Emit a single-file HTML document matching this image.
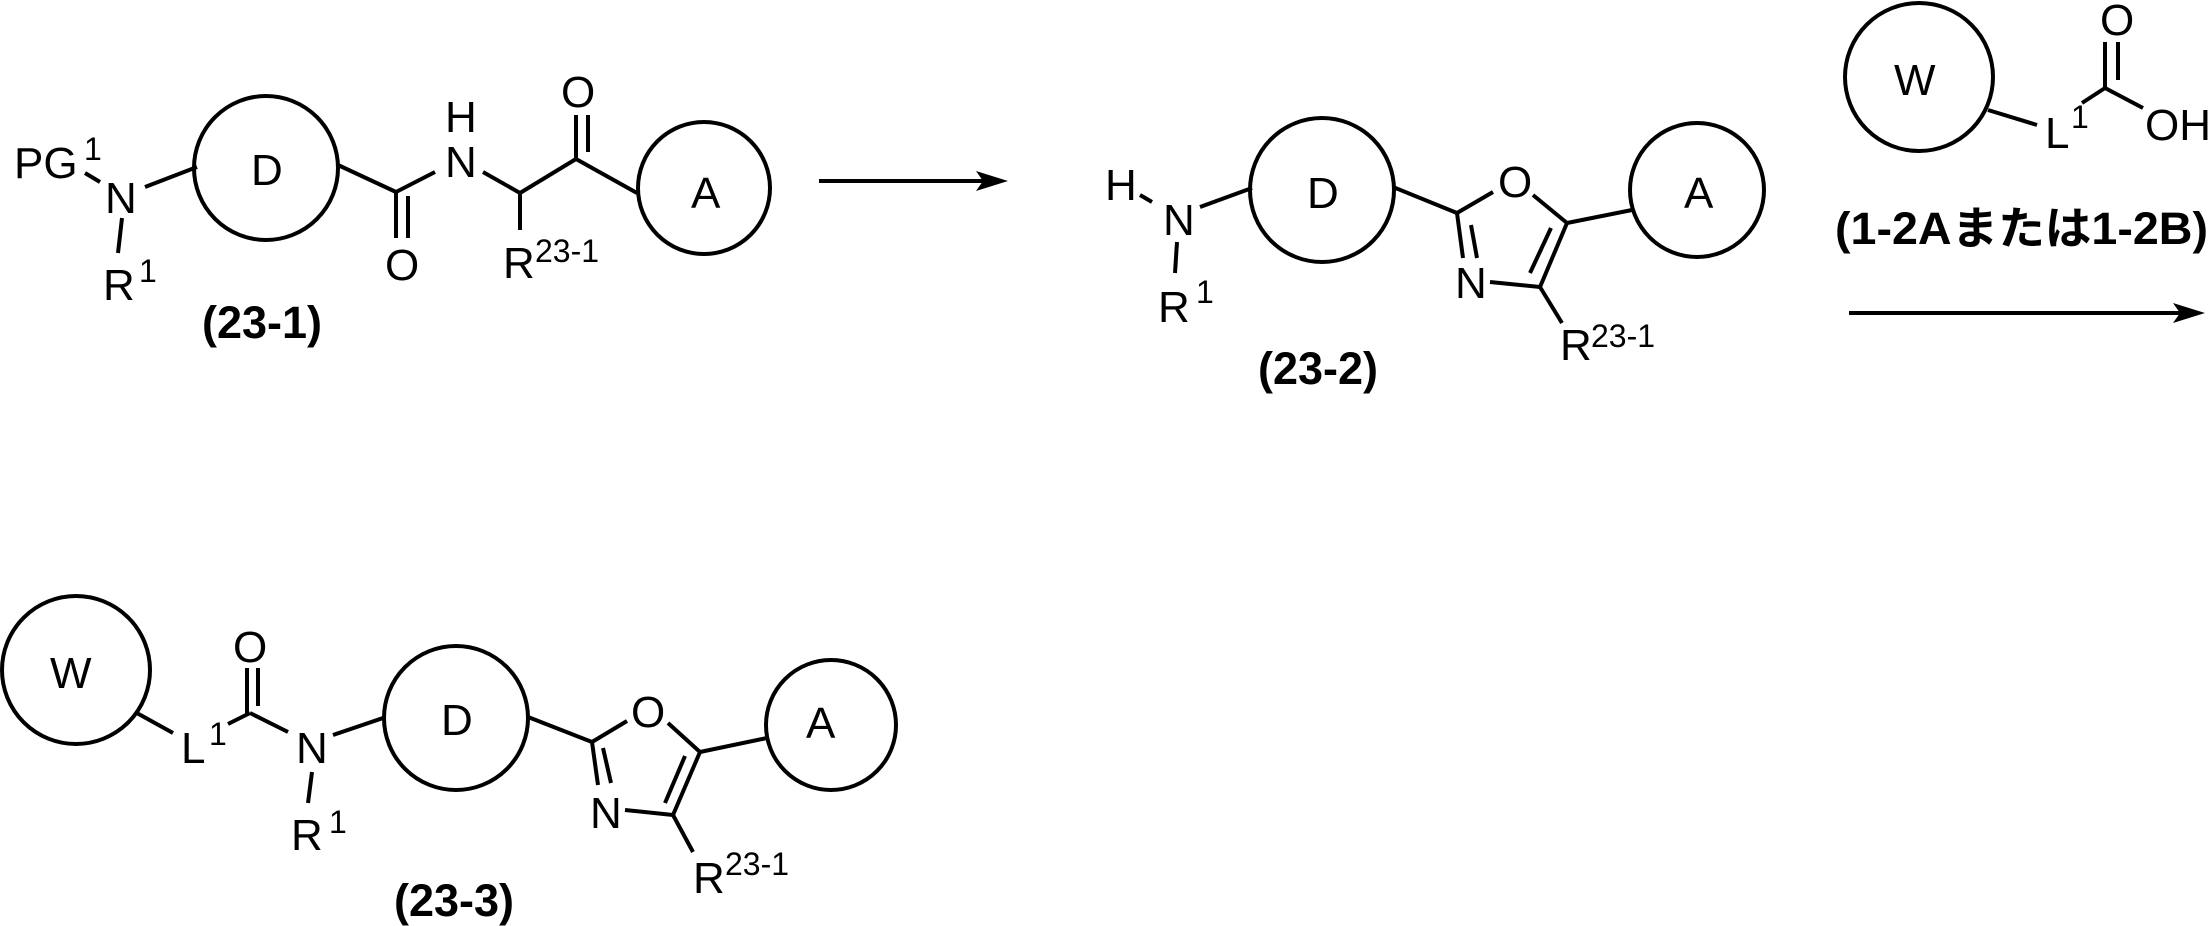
<!DOCTYPE html>
<html><head><meta charset="utf-8">
<style>
html,body{margin:0;padding:0;background:#fff;}
svg{display:block;}
text{font-family:"Liberation Sans","Noto Sans CJK JP",sans-serif;fill:#000;}
.t{font-size:44px;}
.s{font-size:32px;}
.b{font-size:45px;font-weight:bold;}
</style></head>
<body>
<svg width="2212" height="926" viewBox="0 0 2212 926" xmlns="http://www.w3.org/2000/svg">
<g stroke="#000" stroke-width="4" fill="none" stroke-linecap="butt">
<!-- 23-1 -->
<line x1="85" y1="173" x2="100" y2="182"/>
<line x1="145" y1="187" x2="197" y2="167"/>
<line x1="122" y1="218" x2="118" y2="253"/>
<circle cx="266" cy="168" r="72"/>
<line x1="338" y1="165" x2="396" y2="192"/>
<line x1="396" y1="192" x2="396" y2="238"/>
<line x1="408" y1="196" x2="408" y2="238"/>
<line x1="396" y1="192" x2="435" y2="172"/>
<line x1="483" y1="172" x2="520" y2="193"/>
<line x1="520" y1="193" x2="520" y2="230"/>
<line x1="520" y1="193" x2="576" y2="159"/>
<line x1="576" y1="159" x2="576" y2="115"/>
<line x1="588" y1="152" x2="588" y2="115"/>
<line x1="576" y1="159" x2="637" y2="193"/>
<circle cx="704" cy="188" r="66"/>
<line x1="819" y1="181" x2="985" y2="181"/>
<!-- 23-2 -->
<line x1="1140" y1="195" x2="1152" y2="202"/>
<line x1="1200" y1="207" x2="1252" y2="188"/>
<line x1="1177" y1="242" x2="1175" y2="273"/>
<circle cx="1322" cy="190" r="72"/>
<line x1="1393" y1="187" x2="1457" y2="213"/>
<line x1="1457" y1="213" x2="1493" y2="192"/>
<line x1="1533" y1="195" x2="1567" y2="223"/>
<line x1="1567" y1="223" x2="1632" y2="210"/>
<circle cx="1697" cy="190" r="67"/>
<line x1="1457" y1="213" x2="1463" y2="258"/>
<line x1="1471" y1="225" x2="1477" y2="258"/>
<line x1="1490" y1="282" x2="1540" y2="287"/>
<line x1="1540" y1="287" x2="1567" y2="223"/>
<line x1="1530" y1="273" x2="1551" y2="228"/>
<line x1="1540" y1="287" x2="1562" y2="323"/>
<!-- reagent -->
<circle cx="1919" cy="77" r="74"/>
<line x1="1988" y1="110" x2="2037" y2="125"/>
<line x1="2082" y1="103" x2="2105" y2="88"/>
<line x1="2105" y1="88" x2="2105" y2="42"/>
<line x1="2118" y1="80" x2="2118" y2="42"/>
<line x1="2105" y1="88" x2="2143" y2="108"/>
<line x1="1849" y1="313" x2="2180" y2="313"/>
<!-- 23-3 -->
<circle cx="76" cy="670" r="74"/>
<line x1="135" y1="712" x2="173" y2="733"/>
<line x1="228" y1="724" x2="250" y2="713"/>
<line x1="247" y1="713" x2="247" y2="668"/>
<line x1="258" y1="706" x2="258" y2="668"/>
<line x1="250" y1="713" x2="288" y2="732"/>
<line x1="333" y1="735" x2="383" y2="718"/>
<line x1="312" y1="772" x2="308" y2="803"/>
<circle cx="456" cy="718" r="72"/>
<line x1="528" y1="717" x2="592" y2="742"/>
<line x1="592" y1="742" x2="627" y2="721"/>
<line x1="668" y1="723" x2="700" y2="752"/>
<line x1="700" y1="752" x2="767" y2="738"/>
<circle cx="831" cy="725" r="65"/>
<line x1="592" y1="742" x2="598" y2="785"/>
<line x1="603" y1="748" x2="611" y2="783"/>
<line x1="625" y1="810" x2="673" y2="815"/>
<line x1="673" y1="815" x2="700" y2="752"/>
<line x1="665" y1="803" x2="685" y2="756"/>
<line x1="673" y1="815" x2="693" y2="852"/>
</g>
<polygon points="1008,181 976,171 983,181 976,191" fill="#000"/>
<polygon points="2205,313 2173,303 2180,313 2173,323" fill="#000"/>

<!-- 23-1 text -->
<text class="t" x="14" y="178">PG</text>
<text class="s" x="84" y="160">1</text>
<text class="t" x="105" y="213">N</text>
<text class="t" x="103" y="300">R</text>
<text class="s" x="139" y="282">1</text>
<text class="b" x="202" y="338">(23-1)</text>
<text class="t" x="251" y="185">D</text>
<text class="t" x="385" y="280">O</text>
<text class="t" x="445" y="132">H</text>
<text class="t" x="445" y="177">N</text>
<text class="t" x="503" y="278">R</text>
<text class="s" x="535" y="262">23-1</text>
<text class="t" x="561" y="107">O</text>
<text class="t" x="691" y="208">A</text>

<!-- 23-2 text -->
<text class="t" x="1105" y="200">H</text>
<text class="t" x="1163" y="235">N</text>
<text class="t" x="1158" y="322">R</text>
<text class="s" x="1196" y="303">1</text>
<text class="b" x="1258" y="384">(23-2)</text>
<text class="t" x="1307" y="208">D</text>
<text class="t" x="1498" y="197">O</text>
<text class="t" x="1455" y="298">N</text>
<text class="t" x="1684" y="208">A</text>
<text class="t" x="1560" y="360">R</text>
<text class="s" x="1591" y="347">23-1</text>

<!-- reagent text -->
<text class="t" x="1894" y="95">W</text>
<text class="t" x="2045" y="148">L</text>
<text class="s" x="2071" y="128">1</text>
<text class="t" x="2100" y="35">O</text>
<text class="t" x="2145" y="140">OH</text>
<text class="b" x="1835" y="244" textLength="373" lengthAdjust="spacingAndGlyphs">(1-2Aまたは1-2B)</text>

<!-- 23-3 text -->
<text class="t" x="50" y="688">W</text>
<text class="t" x="181" y="763">L</text>
<text class="s" x="209" y="745">1</text>
<text class="t" x="233" y="662">O</text>
<text class="t" x="296" y="763">N</text>
<text class="t" x="291" y="850">R</text>
<text class="s" x="329" y="833">1</text>
<text class="b" x="394" y="916">(23-3)</text>
<text class="t" x="441" y="735">D</text>
<text class="t" x="631" y="727">O</text>
<text class="t" x="590" y="828">N</text>
<text class="t" x="806" y="738">A</text>
<text class="t" x="693" y="893">R</text>
<text class="s" x="725" y="875">23-1</text>
</svg>
</body></html>
